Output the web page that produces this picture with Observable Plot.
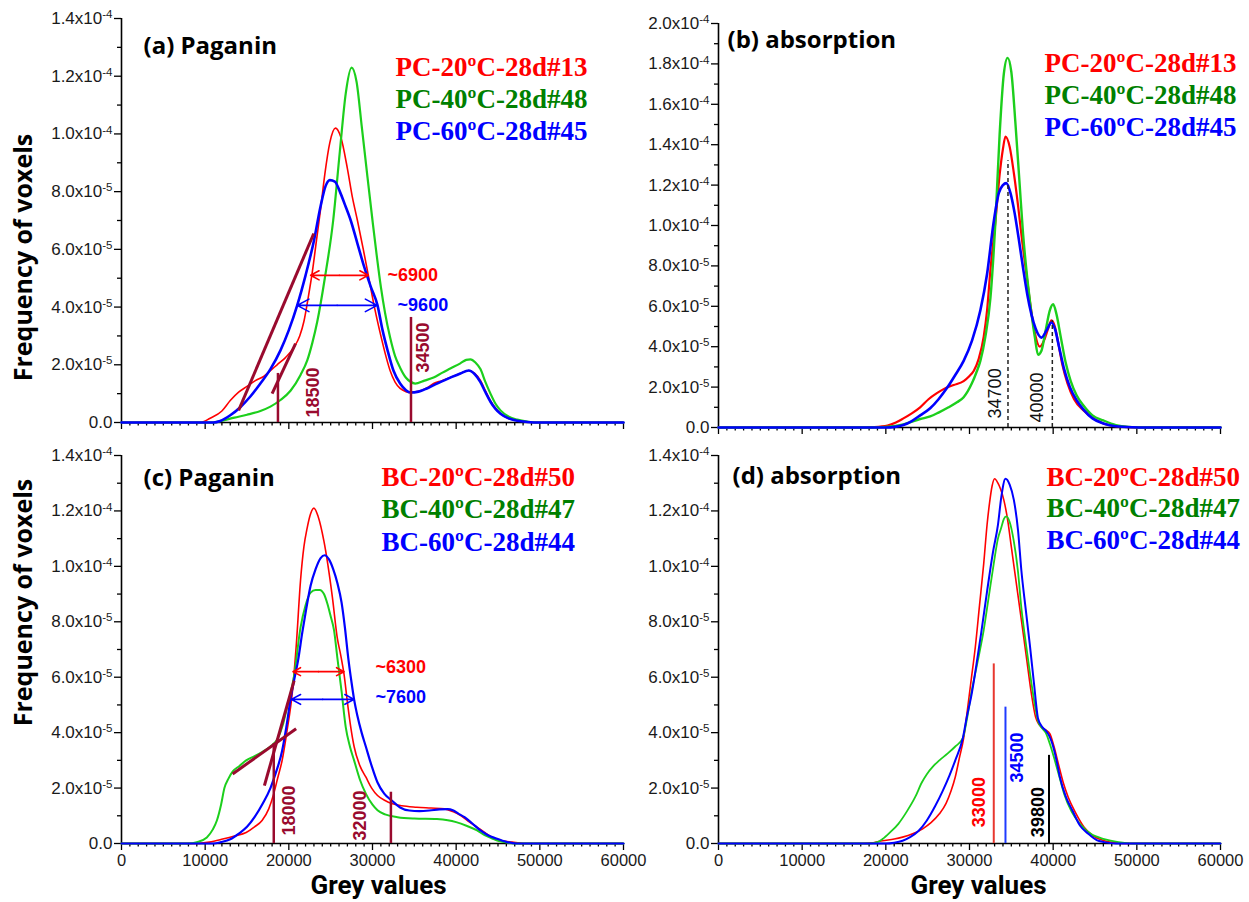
<!DOCTYPE html>
<html><head><meta charset="utf-8">
<script src="https://cdn.jsdelivr.net/npm/d3@7"></script>
<script src="https://cdn.jsdelivr.net/npm/@observablehq/plot@0.6"></script>
<style>
body{margin:0;background:#fff;}
#wrap{position:relative;width:1249px;height:902px;background:#fff;overflow:hidden;}
.panel{position:absolute;}
</style></head><body><div id="wrap"></div>
<script>
// ---------- tick values and labels ----------
const xMajor = [0, 10000, 20000, 30000, 40000, 50000, 60000];
const xLabels = ["0", "10000", "20000", "30000", "40000", "50000", "60000"];
// y in units of 1e-5
const yMajor14 = [0, 2, 4, 6, 8, 10, 12, 14];
const yLabels14 = ["0.0", "2.0x10^-5", "4.0x10^-5", "6.0x10^-5", "8.0x10^-5", "1.0x10^-4", "1.2x10^-4", "1.4x10^-4"];
const yMajor20 = [0, 2, 4, 6, 8, 10, 12, 14, 16, 18, 20];
const yLabels20 = ["0.0", "2.0x10^-5", "4.0x10^-5", "6.0x10^-5", "8.0x10^-5", "1.0x10^-4", "1.2x10^-4", "1.4x10^-4", "1.6x10^-4", "1.8x10^-4", "2.0x10^-4"];

// ---------- legends / titles ----------
const legendPC = ["PC-20ºC-28d#13", "PC-40ºC-28d#48", "PC-60ºC-28d#45"];
const legendBC = ["BC-20ºC-28d#50", "BC-40ºC-28d#47", "BC-60ºC-28d#44"];
const titles = ["(a) Paganin", "(b) absorption", "(c) Paganin", "(d) absorption"];
const yTitle = "Frequency of voxels";
const xTitle = "Grey values";

// ---------- series: [grey value, frequency in 1e-5] ----------
const a_PC20 = [[0,0],[9400,0],[10600,0.15],[12000,0.4],[13000,0.76],[14000,1.05],[15000,1.25],[16000,1.45],[17000,1.6],[18000,1.85],[18600,2.0],[19600,2.25],[20600,2.6],[21300,3.0],[21800,3.5],[22300,4.3],[22800,5.2],[23300,6.3],[23800,7.4],[24300,8.6],[24900,9.7],[25570,10.2],[26200,9.9],[27000,8.8],[27600,7.8],[28200,7.0],[28900,6.0],[29500,5.1],[30300,3.9],[31000,3.0],[31600,2.3],[32100,1.8],[32700,1.4],[33300,1.18],[34000,1.07],[34500,1.04],[35500,1.08],[36500,1.2],[37300,1.35],[38300,1.45],[39300,1.56],[40500,1.7],[41500,1.8],[42200,1.7],[42900,1.46],[43500,1.1],[44100,0.76],[44700,0.5],[45300,0.31],[46200,0.15],[47300,0.07],[48500,0.02],[50000,0],[60000,0]];
const a_PC40 = [[0,0],[11000,0],[11800,0.05],[13500,0.17],[15000,0.27],[16600,0.4],[17800,0.55],[19000,0.78],[20200,1.1],[21400,1.65],[22200,2.15],[22800,2.75],[23400,3.5],[24300,5.0],[25300,7.0],[26100,9.4],[26800,11.4],[27500,12.3],[28100,11.8],[28700,10.3],[29400,8.5],[30000,7.0],[30500,5.8],[31000,4.7],[31500,3.8],[32100,2.95],[32700,2.3],[33300,1.9],[34000,1.55],[34500,1.42],[35100,1.35],[36200,1.45],[37300,1.56],[38300,1.72],[39300,1.87],[40500,2.05],[41200,2.17],[41700,2.19],[42300,2.08],[42900,1.85],[43500,1.4],[44100,1.0],[44700,0.65],[45300,0.42],[46300,0.2],[47300,0.1],[48500,0.03],[49500,0],[60000,0]];
const a_PC60 = [[0,0],[11000,0],[11800,0.05],[13000,0.25],[14200,0.53],[15400,0.9],[16600,1.35],[17800,1.85],[19000,2.5],[20000,3.2],[21000,4.06],[22000,5.1],[23000,6.3],[23800,7.5],[24400,8.2],[24900,8.4],[25500,8.35],[26100,8.0],[26700,7.55],[27400,7.0],[28200,6.2],[29000,5.4],[29800,4.7],[30600,4.06],[31200,3.2],[31800,2.5],[32500,1.8],[33300,1.35],[34000,1.12],[34500,1.04],[35500,1.07],[36500,1.18],[37500,1.32],[38500,1.45],[39500,1.58],[40500,1.7],[41500,1.8],[42200,1.68],[42900,1.4],[43500,1.05],[44100,0.72],[44700,0.47],[45300,0.3],[46200,0.15],[47300,0.06],[48500,0.02],[50000,0],[60000,0]];

const b_PC20 = [[0,0],[17000,0],[18500,0.02],[20200,0.1],[21200,0.25],[22100,0.45],[23100,0.7],[24100,1.0],[25100,1.4],[26100,1.7],[26900,1.9],[28100,2.1],[29300,2.3],[30000,2.55],[30500,2.8],[31100,3.4],[31700,4.5],[32100,5.8],[32500,7.8],[33100,10.2],[33600,12.5],[34000,13.8],[34300,14.4],[34800,13.9],[35300,12.6],[35800,11.0],[36300,9.2],[36800,7.6],[37300,6.0],[37800,4.7],[38400,4.0],[38900,4.3],[39400,4.9],[39800,5.3],[40200,5.0],[40600,4.2],[41100,3.1],[41700,2.2],[42500,1.4],[43600,0.85],[44800,0.45],[46000,0.2],[47500,0.07],[49000,0.02],[51000,0],[60000,0]];
const b_PC40 = [[0,0],[18000,0],[20000,0.03],[22100,0.15],[24100,0.42],[25300,0.55],[26300,0.74],[27500,1.0],[28500,1.25],[29300,1.5],[30300,2.2],[30800,2.7],[31300,3.3],[31900,4.5],[32500,6.4],[33100,10.2],[33600,14.5],[34100,17.5],[34550,18.3],[35000,17.6],[35500,15.0],[36000,12.0],[36400,9.6],[36800,7.8],[37300,6.0],[37800,4.5],[38200,3.6],[38600,3.8],[39100,4.8],[39600,5.8],[40000,6.1],[40400,5.6],[40900,4.5],[41500,3.2],[42100,2.3],[42800,1.6],[43600,1.1],[44700,0.6],[46000,0.35],[47500,0.12],[49000,0.03],[51000,0],[60000,0]];
const b_PC60 = [[0,0],[20000,0],[21100,0.03],[22100,0.12],[23100,0.32],[24100,0.6],[25300,0.95],[26300,1.4],[27300,1.95],[28300,2.6],[29300,3.3],[30300,4.3],[31300,5.8],[32100,7.6],[32900,10.2],[33500,11.6],[34000,12.0],[34400,12.1],[34900,11.6],[35400,10.6],[35900,9.3],[36400,7.9],[36900,6.6],[37400,5.6],[37900,4.9],[38600,4.45],[39200,4.8],[39800,5.2],[40200,4.9],[40700,4.0],[41300,2.9],[42000,2.0],[42800,1.35],[43600,0.9],[44700,0.45],[46000,0.2],[47500,0.06],[49500,0.01],[51000,0],[60000,0]];

const c_BC20 = [[0,0],[9000,0],[10500,0.05],[12100,0.16],[13500,0.27],[14900,0.4],[15900,0.6],[16800,0.83],[17600,1.25],[18200,1.8],[18700,2.4],[19200,3.0],[19800,4.1],[20400,5.4],[20900,7.2],[21400,9.5],[21800,10.7],[22200,11.4],[22600,11.9],[23000,12.1],[23500,11.8],[24200,10.9],[25200,8.9],[25800,7.4],[26200,6.8],[26600,6.1],[27000,5.1],[27400,4.2],[27800,3.5],[28500,2.8],[29200,2.4],[29900,2.0],[30600,1.73],[31500,1.55],[32300,1.44],[33500,1.36],[35300,1.31],[37000,1.28],[38600,1.25],[39600,1.15],[40600,1.0],[41600,0.77],[42500,0.59],[43400,0.4],[44300,0.23],[45500,0.1],[46700,0.05],[48000,0],[60000,0]];
const c_BC40 = [[0,0],[8000,0],[9000,0.05],[10200,0.22],[10900,0.5],[11400,0.83],[11900,1.4],[12300,2.0],[12800,2.35],[13300,2.6],[14100,2.8],[14900,3.0],[15900,3.15],[16800,3.3],[17800,3.5],[18700,3.8],[19300,4.3],[19700,4.8],[20200,5.4],[20600,6.0],[21400,7.8],[22000,8.6],[22600,9.05],[23200,9.15],[23700,9.15],[24200,9.0],[24600,8.66],[25000,8.2],[25400,7.7],[25800,6.7],[26300,5.5],[26800,4.2],[27300,3.5],[27800,3.0],[28500,2.3],[29200,1.8],[30000,1.4],[30600,1.2],[31500,1.05],[33000,0.95],[35000,0.9],[37700,0.88],[39000,0.84],[40000,0.77],[41300,0.63],[42500,0.47],[43400,0.3],[44300,0.18],[45000,0.1],[45800,0.05],[47000,0],[60000,0]];
const c_BC60 = [[0,0],[11000,0],[11900,0.05],[13000,0.15],[14000,0.35],[15000,0.6],[15900,0.95],[16900,1.45],[17800,2.0],[18500,2.6],[19200,3.35],[19700,4.2],[20200,5.2],[20700,6.0],[21100,6.6],[21600,7.6],[22100,8.5],[22600,9.3],[23200,9.9],[23800,10.3],[24300,10.4],[24800,10.25],[25300,9.9],[25800,9.4],[26300,8.7],[26700,7.8],[27100,6.7],[27500,5.8],[27800,5.2],[28200,4.6],[28700,4.0],[29200,3.5],[29900,2.8],[30600,2.2],[31400,1.8],[32300,1.55],[33300,1.3],[34400,1.19],[35600,1.17],[36800,1.19],[38000,1.23],[39000,1.24],[39600,1.2],[40300,1.07],[41000,0.95],[41900,0.73],[42900,0.47],[43800,0.3],[44800,0.18],[46000,0.06],[47200,0],[60000,0]];

const d_BC20 = [[0,0],[17000,0],[18500,0.03],[19600,0.1],[21000,0.16],[22000,0.23],[23200,0.35],[24400,0.53],[25400,0.75],[26400,1.07],[27200,1.45],[27800,1.9],[28300,2.4],[28800,3.1],[29300,3.8],[29700,4.7],[30200,5.9],[30700,7.1],[31200,8.6],[31700,10.1],[32100,11.5],[32400,12.3],[32700,12.9],[33000,13.16],[33400,13.0],[33700,12.8],[34100,12.4],[34600,11.6],[35000,10.7],[35500,9.6],[36000,8.5],[36500,7.4],[36900,6.5],[37400,5.4],[37900,4.56],[38300,4.3],[38600,4.2],[39100,4.1],[39600,3.96],[40100,3.5],[40600,2.9],[41200,2.2],[41800,1.67],[42700,1.1],[43700,0.59],[44800,0.27],[46100,0.1],[47500,0.03],[49000,0],[60000,0]];
const d_BC40 = [[0,0],[18000,0],[19000,0.05],[19600,0.16],[20500,0.4],[21500,0.71],[22500,1.15],[23500,1.67],[24300,2.2],[24900,2.5],[25700,2.8],[26400,3.0],[27400,3.25],[28300,3.5],[29200,3.8],[29700,4.5],[30200,5.4],[31000,6.6],[31700,7.7],[32300,8.9],[32900,10.1],[33400,11.0],[33800,11.4],[34100,11.7],[34400,11.8],[34800,11.6],[35300,10.9],[35800,9.8],[36200,8.5],[36700,7.3],[37200,6.2],[37700,5.2],[38200,4.4],[38700,4.15],[39100,4.0],[39600,3.6],[40100,3.1],[40700,2.45],[41300,1.8],[42200,1.15],[43200,0.71],[44500,0.35],[46100,0.16],[47800,0.05],[49500,0],[60000,0]];
const d_BC60 = [[0,0],[20000,0],[21000,0.03],[22000,0.1],[22900,0.23],[23900,0.45],[24900,0.83],[25900,1.35],[26800,1.9],[27600,2.45],[28300,3.0],[29200,3.8],[29700,4.6],[30200,5.3],[30700,6.2],[31400,7.6],[32100,9.1],[32800,10.5],[33400,11.5],[33800,12.5],[34300,13.16],[34800,12.95],[35300,12.4],[35800,11.3],[36200,9.85],[36700,8.5],[37200,7.2],[37700,5.8],[38200,4.5],[38700,4.2],[39100,4.08],[39500,3.9],[39900,3.6],[40400,3.0],[40800,2.4],[41500,1.7],[42300,1.19],[43200,0.65],[44200,0.35],[45200,0.12],[46100,0.05],[47500,0],[60000,0]];

// ---------- annotations ----------
// panel a
const aVX = [18700, 34600], aVTop = [1.7, 3.64];
const aVLabel = ["18500", "34500"], aVLabelX = [22900, 36100], aVLabelY = [0.17, 1.73];
const aTangents = [[14000, 0.42, 22980, 6.55], [18000, 1.0, 20800, 2.73]];
const aFwhmL = [22600, 21000], aFwhmR = [29500, 30550], aFwhmY = [5.1, 4.06];
const aFwhmText = ["~6900", "~9600"], aFwhmTextX = [31800, 33000];
// panel b
const bVX = [34600, 39900], bVTop = [13.2, 5.3];
const bVLabel = ["34700", "40000"], bVLabelX = [33100, 38100], bVLabelY = [0.45, 0.25];
// panel c
const cVX = [18200, 32200], cVTop = [3.6, 1.85];
const cVLabel = ["18000", "32000"], cVLabelX = [20000, 28560], cVLabelY = [0.29, 0.11];
const cTangents = [[13280, 2.51, 20870, 4.14], [17080, 2.09, 20630, 5.88]];
const cFwhmL = [20500, 20300], cFwhmR = [26600, 27800], cFwhmY = [6.2, 5.2];
const cFwhmText = ["~6300", "~7600"], cFwhmTextX = [30350, 30350], cFwhmTextY = [6.36, 5.28];
// panel d
const dVX = [32900, 34300, 39500], dVTop = [6.48, 4.92, 3.18];
const dVLabel = ["33000", "34500", "39800"], dVLabelX = [31200, 35700, 38200], dVLabelY = [0.59, 2.2, 0.23];

// ---------- styling ----------
const lineColors = ["#ff0000", "#1ccf1c", "#0000ff"];
const legendColors = ["#ff0000", "#008000", "#0000ff"];
const maroon = "#990a2e";
const sansTick = "'Liberation Sans', Arial, sans-serif";
const sansTitle = "'Open Sans', 'Noto Sans', sans-serif";
const sansXTitle = "Roboto, 'Liberation Sans', sans-serif";
const serif = "'Liberation Serif', 'Times New Roman', serif";

const xMinor = d3.range(1000, 60000, 1000).filter(v => v % 10000 !== 0);
const xFmt = new Map(xMajor.map((v, i) => [v, xLabels[i]]));

function buildPanel(cfg) {
  const yFmt = new Map(cfg.yMajor.map((v, i) => [v, cfg.yLabels[i]]));
  const yMax = cfg.yMajor[cfg.yMajor.length - 1];
  const yMinor = d3.range(1, yMax, 2);
  const marks = [
    Plot.axisY(yMinor, {tickSize: 4, fill: "none", strokeWidth: 1.3, label: null}),
    Plot.axisY(cfg.yMajor, {tickSize: 7, tickPadding: 2, strokeWidth: 1.3, tickFormat: d => yFmt.get(d), fontSize: 17, fill: "#1a1a1a", label: null}),
    Plot.axisX(xMinor, {tickSize: 3.5, fill: "none", strokeWidth: 1.3, label: null}),
    Plot.axisX(xMajor, {tickSize: 7, tickPadding: 4, strokeWidth: 1.3, fontSize: 16.5, fill: cfg.showX ? "#1a1a1a" : "none", tickFormat: d => xFmt.get(d), label: null}),
    Plot.ruleX([0], {stroke: "#000", strokeWidth: 1.6}),
    Plot.ruleY([0], {stroke: "#000", strokeWidth: 1.6})
  ];
  cfg.series.forEach((s, i) => {
    marks.push(Plot.line(s, {x: d => d[0], y: d => d[1], stroke: lineColors[i], strokeWidth: cfg.widths[i], curve: "monotone-x"}));
  });
  if (cfg.extra) marks.push(...cfg.extra);
  // title
  marks.push(Plot.text([cfg.title], {frameAnchor: "top-left", text: d => d, dx: cfg.titleDx, dy: cfg.titleDy, textAnchor: "start", lineAnchor: "bottom", fontSize: 24, fontWeight: "bold", fontFamily: sansTitle, fill: "#000"}));
  // legend
  cfg.legend.forEach((lab, i) => {
    marks.push(Plot.text([lab], {frameAnchor: "top-left", text: d => d, dx: cfg.legDx, dy: cfg.legDy + i * cfg.legStep, textAnchor: "start", lineAnchor: "bottom", fontSize: 27, fontWeight: "bold", fontFamily: serif, fill: legendColors[i]}));
  });
  if (cfg.yTitleDy !== undefined) {
    marks.push(Plot.text([yTitle], {frameAnchor: "left", text: d => d, rotate: -90, dx: -98, dy: cfg.yTitleDy, textAnchor: "middle", lineAnchor: "middle", fontSize: 25, fontWeight: "bold", fontFamily: sansTitle, fill: "#000"}));
  }
  if (cfg.xTitleDx !== undefined) {
    marks.push(Plot.text([xTitle], {frameAnchor: "bottom", text: d => d, dx: cfg.xTitleDx, dy: 50, textAnchor: "middle", lineAnchor: "bottom", fontSize: 26, fontWeight: "bold", fontFamily: sansXTitle, fill: "#000"}));
  }
  const svg = Plot.plot({
    width: cfg.W, height: cfg.H,
    marginLeft: cfg.mL, marginRight: cfg.mR, marginTop: cfg.mT, marginBottom: cfg.mB,
    x: {domain: [0, 60000]},
    y: {domain: [0, yMax]},
    style: {fontFamily: sansTick, background: "transparent", overflow: "visible", color: "#000"},
    marks
  });
  // superscripts for exponents
  svg.querySelectorAll("text").forEach(t => {
    if (t.childElementCount === 0 && t.textContent.includes("^")) {
      const [base, exp] = t.textContent.split("^");
      t.textContent = base;
      const ts = document.createElementNS("http://www.w3.org/2000/svg", "tspan");
      ts.setAttribute("dy", "-0.5em");
      ts.setAttribute("font-size", "0.68em");
      ts.textContent = exp;
      t.appendChild(ts);
    }
  });
  const div = document.createElement("div");
  div.className = "panel";
  div.style.left = cfg.left + "px";
  div.style.top = cfg.top + "px";
  div.appendChild(svg);
  document.getElementById("wrap").appendChild(div);
}

function vLines(X, Top, color, width, dash) {
  const data = X.map((x, i) => ({x, top: Top[i], c: Array.isArray(color) ? color[i] : color}));
  return Plot.ruleX(data, {x: "x", y1: 0, y2: "top", stroke: d => d.c, strokeWidth: width, strokeDasharray: dash});
}
function vLabels(T, X, Y, color, weight) {
  const data = T.map((t, i) => ({t, x: X[i], y: Y[i], c: Array.isArray(color) ? color[i] : color}));
  return Plot.text(data, {x: "x", y: "y", text: "t", rotate: -90, textAnchor: "start", lineAnchor: "middle", fontSize: 18, fontWeight: weight, fill: d => d.c, fontFamily: sansTick});
}
function tangents(T) {
  return Plot.link(T, {x1: d => d[0], y1: d => d[1], x2: d => d[2], y2: d => d[3], stroke: maroon, strokeWidth: 3});
}
function fwhm(L, R, Y, colors) {
  const data = L.map((l, i) => ({l, r: R[i], y: Y[i], m: (l + R[i]) / 2, c: colors[i]}));
  return [
    Plot.arrow(data, {x1: "m", y1: "y", x2: "l", y2: "y", stroke: d => d.c, strokeWidth: 1.6, headLength: 13, headAngle: 56}),
    Plot.arrow(data, {x1: "m", y1: "y", x2: "r", y2: "y", stroke: d => d.c, strokeWidth: 1.6, headLength: 13, headAngle: 56})
  ];
}
function fwhmText(T, X, Y, colors) {
  const data = T.map((t, i) => ({t, x: X[i], y: Y[i], c: colors[i]}));
  return Plot.text(data, {x: "x", y: "y", text: "t", textAnchor: "start", lineAnchor: "middle", fontSize: 18, fontWeight: "bold", fill: d => d.c, fontFamily: sansTick});
}

// (a)
buildPanel({
  left: 0, top: 0, W: 650, H: 450, mL: 121, mR: 27, mT: 18, mB: 28,
  yMajor: yMajor14, yLabels: yLabels14, showX: false,
  series: [a_PC20, a_PC40, a_PC60], widths: [1.6, 2.2, 2.6],
  title: titles[0], titleDx: 22, titleDy: 35,
  legend: legendPC, legDx: 274, legDy: 57, legStep: 32,
  yTitleDy: 37,
  extra: [
    tangents(aTangents),
    vLines(aVX, aVTop, maroon, 2.5),
    vLabels(aVLabel, aVLabelX, aVLabelY, maroon, "bold"),
    ...fwhm(aFwhmL, aFwhmR, aFwhmY, ["#ff0000", "#0000ff"]),
    fwhmText(aFwhmText, aFwhmTextX, aFwhmY, ["#ff0000", "#0000ff"])
  ]
});
// (b)
buildPanel({
  left: 620, top: 0, W: 629, H: 450, mL: 98, mR: 29, mT: 23, mB: 23,
  yMajor: yMajor20, yLabels: yLabels20, showX: false,
  series: [b_PC20, b_PC40, b_PC60], widths: [2.2, 2.4, 2.6],
  title: titles[1], titleDx: 9, titleDy: 24.5,
  legend: legendPC, legDx: 326, legDy: 48, legStep: 32,
  extra: [
    vLines(bVX, bVTop, "#222", 1.5, "4,3"),
    vLabels(bVLabel, bVLabelX, bVLabelY, "#111", "normal")
  ]
});
// (c)
buildPanel({
  left: 0, top: 430, W: 650, H: 472, mL: 121, mR: 27, mT: 25, mB: 59,
  yMajor: yMajor14, yLabels: yLabels14, showX: true,
  series: [c_BC20, c_BC40, c_BC60], widths: [1.6, 2.0, 2.2],
  title: titles[2], titleDx: 22, titleDy: 30,
  legend: legendBC, legDx: 260, legDy: 30, legStep: 32.5,
  yTitleDy: -47, xTitleDx: 6,
  extra: [
    tangents(cTangents),
    vLines(cVX, cVTop, maroon, 2.5),
    vLabels(cVLabel, cVLabelX, cVLabelY, maroon, "bold"),
    ...fwhm(cFwhmL, cFwhmR, cFwhmY, ["#ff0000", "#0000ff"]),
    fwhmText(cFwhmText, cFwhmTextX, cFwhmTextY, ["#ff0000", "#0000ff"])
  ]
});
// (d)
buildPanel({
  left: 620, top: 430, W: 629, H: 472, mL: 98, mR: 29, mT: 25, mB: 59,
  yMajor: yMajor14, yLabels: yLabels14, showX: true,
  series: [d_BC20, d_BC40, d_BC60], widths: [1.6, 1.8, 2.0],
  title: titles[3], titleDx: 14, titleDy: 28,
  legend: legendBC, legDx: 328, legDy: 30, legStep: 31.5,
  xTitleDx: 9,
  extra: [
    vLines(dVX, dVTop, ["#e8382f", "#1f3bff", "#000000"], 2),
    vLabels(dVLabel, dVLabelX, dVLabelY, ["#ff0000", "#0000ff", "#000000"], "bold")
  ]
});
</script></body></html>
